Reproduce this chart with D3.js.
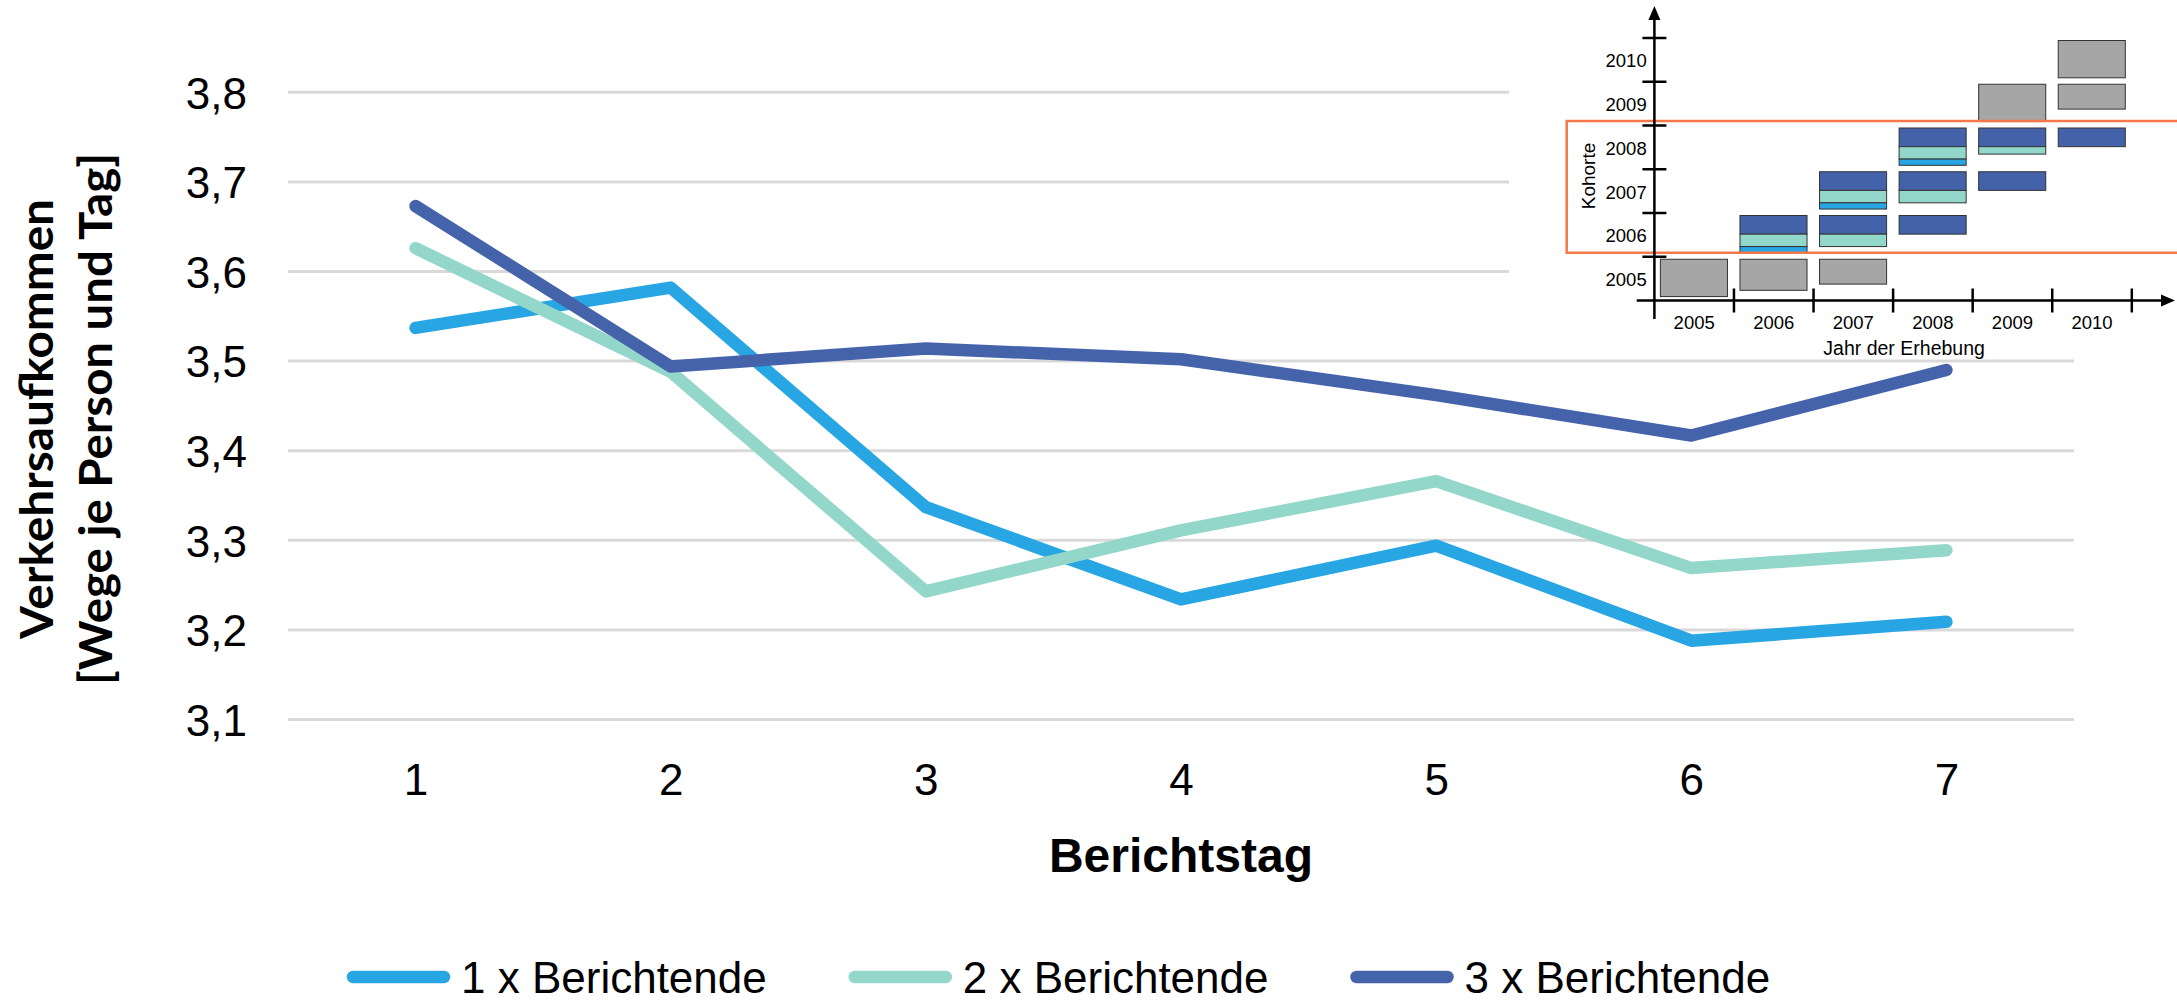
<!DOCTYPE html>
<html>
<head>
<meta charset="utf-8">
<script src="https://cdnjs.cloudflare.com/ajax/libs/d3/7.8.5/d3.min.js"></script>
<style>
  body { margin: 0; background: #fff; }
  svg { display: block; }
</style>
</head>
<body>
<div class="canvas"></div>
<script>
// main chart data
const days = [1, 2, 3, 4, 5, 6, 7]
const seriesNames = ['1 x Berichtende', '2 x Berichtende', '3 x Berichtende']
const values1 = [3.537, 3.582, 3.337, 3.234, 3.294, 3.188, 3.209]
const values2 = [3.626, 3.488, 3.243, 3.311, 3.366, 3.269, 3.289]
const values3 = [3.673, 3.494, 3.514, 3.502, 3.462, 3.417, 3.490]
const yTicks = [3.1, 3.2, 3.3, 3.4, 3.5, 3.6, 3.7, 3.8]

// inset: survey years, cohorts and the stacked boxes (units of participants)
const insetYears = [2005, 2006, 2007, 2008, 2009, 2010]
const insetCohorts = [2010, 2009, 2008, 2007, 2006, 2005]
const insetCells = [
  { cohort: 2005, year: 2005, other: 6 },
  { cohort: 2005, year: 2006, other: 5 },
  { cohort: 2005, year: 2007, other: 4 },
  { cohort: 2006, year: 2006, n3: 3, n2: 2, n1: 1 },
  { cohort: 2006, year: 2007, n3: 3, n2: 2 },
  { cohort: 2006, year: 2008, n3: 3 },
  { cohort: 2007, year: 2007, n3: 3, n2: 2, n1: 1 },
  { cohort: 2007, year: 2008, n3: 3, n2: 2 },
  { cohort: 2007, year: 2009, n3: 3 },
  { cohort: 2008, year: 2008, n3: 3, n2: 2, n1: 1 },
  { cohort: 2008, year: 2009, n3: 3, n2: 1.2 },
  { cohort: 2008, year: 2010, n3: 3 },
  { cohort: 2009, year: 2009, other: 6 },
  { cohort: 2009, year: 2010, other: 4 },
  { cohort: 2010, year: 2010, other: 6 }
]
const highlightCohorts = [2008, 2006]

const colors = ['#28a6e3', '#93d6ca', '#4563ab']
const groupColors = { n3: '#4462a9', n2: '#93d6ca', n1: '#28a6e3', other: '#a6a6a6' }
const font = "'Liberation Sans', Arial, sans-serif"

const width = 2177
const height = 1004

const svg = d3.select('.canvas')
  .append('svg')
  .attr('width', width)
  .attr('height', height)

svg.append('rect').attr('width', width).attr('height', height).attr('fill', '#fff')

const x = d3.scalePoint()
  .domain(days)
  .range([288, 2074])
  .padding(0.5)

const y = d3.scaleLinear()
  .domain([3.1, 3.8])
  .range([719.5, 92.3])

const de = d3.formatLocale({ decimal: ',', thousands: '.', grouping: [3], currency: ['', ' €'] })
const fmt = de.format('.1f')

// grid lines
svg.append('g')
  .selectAll('line')
  .data(yTicks)
  .enter()
  .append('line')
  .attr('x1', 288)
  .attr('x2', 2074)
  .attr('y1', d => y(d))
  .attr('y2', d => y(d))
  .attr('stroke', '#d9d9d9')
  .attr('stroke-width', 3)

// y axis labels
const yAxis = d3.axisLeft(y).tickValues(yTicks).tickFormat(fmt).tickSize(0).tickPadding(0)
const yAxisGroup = svg.append('g')
  .attr('transform', 'translate(247, 0)')
  .call(yAxis)
yAxisGroup.select('.domain').remove()
yAxisGroup.selectAll('text')
  .attr('font-family', font)
  .attr('font-size', 44)
  .attr('fill', '#000')
  .attr('dy', '0.36em')

// x axis labels
const xAxis = d3.axisBottom(x).tickSize(0).tickPadding(0)
const xAxisGroup = svg.append('g')
  .attr('transform', 'translate(0, 764)')
  .call(xAxis)
xAxisGroup.select('.domain').remove()
xAxisGroup.selectAll('text')
  .attr('font-family', font)
  .attr('font-size', 44)
  .attr('fill', '#000')
  .attr('dy', '0.71em')

// axis titles
svg.append('text')
  .attr('x', 1181)
  .attr('y', 872)
  .attr('text-anchor', 'middle')
  .attr('font-family', font)
  .attr('font-weight', 'bold')
  .attr('font-size', 48)
  .text('Berichtstag')

const yTitle = svg.append('g')
  .attr('transform', 'translate(0, 419) rotate(-90)')
  .attr('font-family', "Lato, 'Open Sans', sans-serif")
  .attr('font-weight', 'bold')
  .attr('font-size', 45)
yTitle.append('text')
  .attr('x', -220).attr('y', 53)
  .attr('textLength', 440)
  .attr('lengthAdjust', 'spacingAndGlyphs')
  .text('Verkehrsaufkommen')
yTitle.append('text')
  .attr('x', -266).attr('y', 112)
  .attr('textLength', 532)
  .attr('lengthAdjust', 'spacingAndGlyphs')
  .text('[Wege je Person und Tag]')

// lines
const line = d3.line()
  .x((d, i) => x(days[i]))
  .y(d => y(d))

const allSeries = [values1, values2, values3]
svg.append('g')
  .selectAll('path')
  .data(allSeries)
  .enter()
  .append('path')
  .attr('d', d => line(d))
  .attr('fill', 'none')
  .attr('stroke', (d, i) => colors[i])
  .attr('stroke-width', 12.5)
  .attr('stroke-linecap', 'round')
  .attr('stroke-linejoin', 'round')

// legend
const legend = svg.append('g').attr('transform', 'translate(347, 977)')
let lx = 0
seriesNames.forEach((name, i) => {
  const item = legend.append('g').attr('transform', `translate(${lx}, 0)`)
  item.append('line')
    .attr('x1', 6).attr('x2', 97)
    .attr('stroke', colors[i])
    .attr('stroke-width', 12.5)
    .attr('stroke-linecap', 'round')
  const t = item.append('text')
    .attr('x', 114)
    .attr('y', 16)
    .attr('font-family', font)
    .attr('font-size', 44)
    .text(name)
  lx += 114 + t.node().getComputedTextLength() + 82
})

// ---- inset diagram ----
const inset = svg.append('g')
inset.append('rect')
  .attr('x', 1509).attr('y', 0)
  .attr('width', width - 1509).attr('height', 356)
  .attr('fill', '#fff')

const ix = d3.scaleBand().domain(insetYears).range([1654.4, 2131.8])
const iy = d3.scaleBand().domain(insetCohorts).range([38, 300.5])
const unit = d3.scaleLinear().domain([0, 6]).range([0, 37.3])
const groups = ['n3', 'n2', 'n1', 'other']

// boxes
insetCells.forEach(c => {
  let top = iy(c.cohort) + 2.5
  groups.forEach(g => {
    if (!c[g]) return
    const h = unit(c[g])
    inset.append('rect')
      .attr('x', ix(c.year) + 6)
      .attr('y', top)
      .attr('width', ix.bandwidth() - 12.5)
      .attr('height', h)
      .attr('fill', groupColors[g])
      .attr('stroke', '#333')
      .attr('stroke-width', 1)
    top += h
  })
})

// highlight frame around the cohorts in the analysis
const hTop = iy(highlightCohorts[0]) - 4.5
const hBottom = iy(highlightCohorts[1]) + iy.bandwidth() - 4
inset.append('rect')
  .attr('x', 1566.7)
  .attr('y', hTop)
  .attr('width', width - 1566.7 + 5)
  .attr('height', hBottom - hTop)
  .attr('fill', 'none')
  .attr('stroke', '#f5774a')
  .attr('stroke-width', 2.5)

// axes
const axisY = iy.range()[1]
const axisX = ix.range()[0]
inset.append('line')
  .attr('x1', 1636.7).attr('x2', 2163)
  .attr('y1', axisY).attr('y2', axisY)
  .attr('stroke', '#000').attr('stroke-width', 2.5)
inset.append('path')
  .attr('d', `M2161,${axisY - 6}L2175,${axisY}L2161,${axisY + 6}Z`)
  .attr('fill', '#000')
inset.append('line')
  .attr('x1', axisX).attr('x2', axisX)
  .attr('y1', 319).attr('y2', 18)
  .attr('stroke', '#000').attr('stroke-width', 2.5)
inset.append('path')
  .attr('d', `M${axisX - 6},20L${axisX},6L${axisX + 6},20Z`)
  .attr('fill', '#000')

// x ticks and labels
inset.selectAll('.xt')
  .data(insetYears.slice(1).concat(['end']))
  .enter()
  .append('line')
  .attr('x1', d => d === 'end' ? ix.range()[1] : ix(d))
  .attr('x2', d => d === 'end' ? ix.range()[1] : ix(d))
  .attr('y1', axisY - 12).attr('y2', axisY + 12)
  .attr('stroke', '#000').attr('stroke-width', 2.5)
inset.selectAll('.xl')
  .data(insetYears)
  .enter()
  .append('text')
  .attr('x', d => ix(d) + ix.bandwidth() / 2)
  .attr('y', axisY + 22)
  .attr('dy', '0.35em')
  .attr('text-anchor', 'middle')
  .attr('font-family', font)
  .attr('font-size', 18.5)
  .text(d => d)

// y ticks and labels
inset.selectAll('.yt')
  .data(insetCohorts)
  .enter()
  .append('line')
  .attr('x1', axisX - 12).attr('x2', axisX + 12)
  .attr('y1', d => iy(d)).attr('y2', d => iy(d))
  .attr('stroke', '#000').attr('stroke-width', 2.5)
inset.selectAll('.yl')
  .data(insetCohorts)
  .enter()
  .append('text')
  .attr('x', 1646.7)
  .attr('y', d => iy(d) + iy.bandwidth() / 2 + 1)
  .attr('dy', '0.35em')
  .attr('text-anchor', 'end')
  .attr('font-family', font)
  .attr('font-size', 18.5)
  .text(d => d)

inset.append('text')
  .attr('x', (ix.range()[0] + ix.range()[1]) / 2 + 11)
  .attr('y', 348)
  .attr('dy', '0.35em')
  .attr('text-anchor', 'middle')
  .attr('font-family', font)
  .attr('font-size', 19.5)
  .text('Jahr der Erhebung')

inset.append('text')
  .attr('transform', 'translate(1595, 176) rotate(-90)')
  .attr('text-anchor', 'middle')
  .attr('font-family', font)
  .attr('font-size', 19)
  .text('Kohorte')
</script>
</body>
</html>
